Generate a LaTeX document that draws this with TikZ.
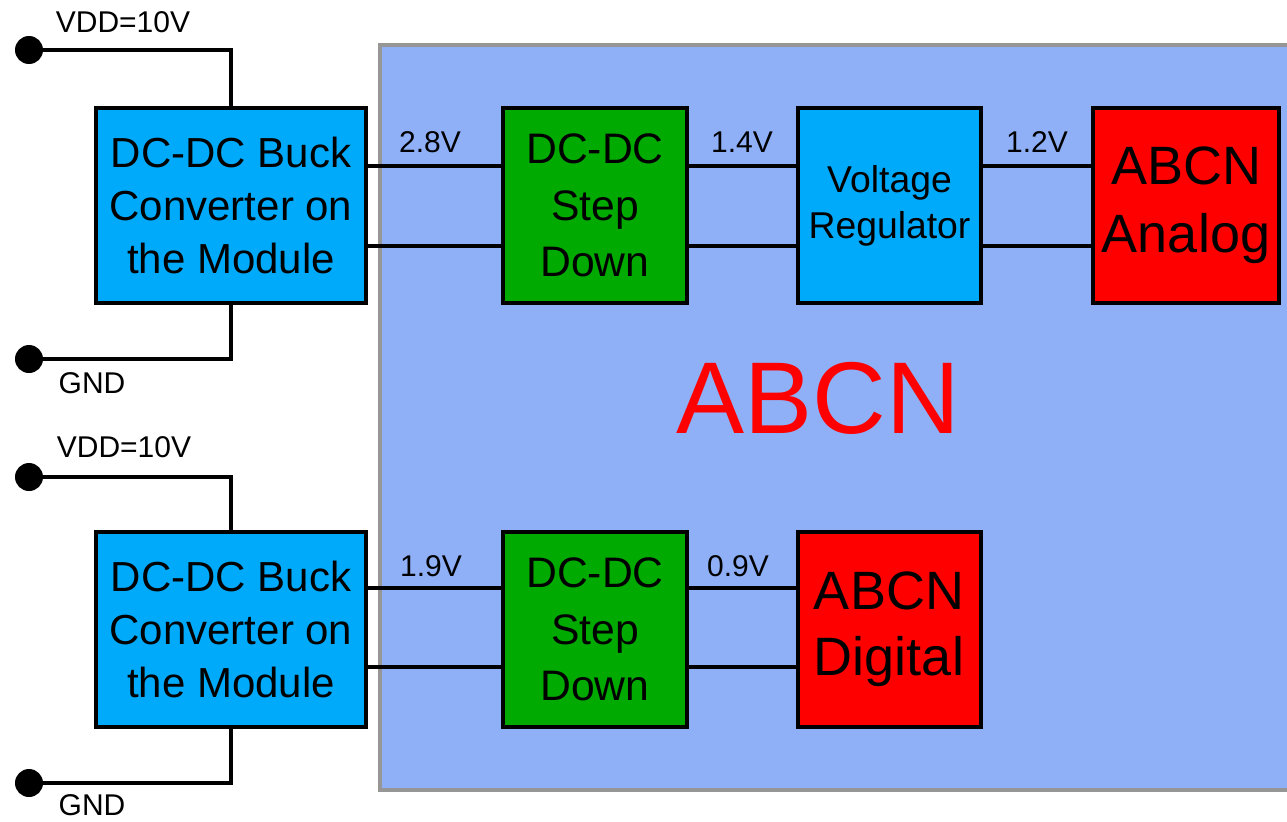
\documentclass[tikz,border=0pt]{standalone}
\usepackage{fontspec}
\setmainfont{Liberation Sans}
\definecolor{bigfill}{RGB}{143,176,247}
\definecolor{bigborder}{RGB}{150,150,150}
\definecolor{cyanbox}{RGB}{0,170,250}
\definecolor{greenbox}{RGB}{0,170,0}
\definecolor{redbox}{RGB}{255,0,0}
\tikzset{
  blk/.style={draw=black, line width=3pt, inner sep=0pt, outer sep=0pt, align=center,
              minimum height=146.25pt},
  buckbox/.style={blk, fill=cyanbox, minimum width=202.5pt,
                  font=\fontsize{31.5}{40}\selectfont},
  sdbox/.style={blk, fill=greenbox, minimum width=138pt,
                font=\fontsize{32}{42.4}\selectfont},
  vrbox/.style={blk, fill=cyanbox, minimum width=137.25pt,
                font=\fontsize{28}{34.5}\selectfont},
  anabox/.style={blk, fill=redbox, minimum width=139.5pt,
                 font=\fontsize{40.5}{51}\selectfont},
  digbox/.style={blk, fill=redbox, minimum width=137.25pt,
                 font=\fontsize{40.5}{49.5}\selectfont},
  dot/.style={circle, fill=black, inner sep=0pt, minimum size=21pt},
  lbl/.style={inner sep=0pt, font=\fontsize{22.5}{27}\selectfont},
  wire/.style={line width=3pt, black},
}
\begin{document}
\begin{tikzpicture}[x=0.75pt, y=-0.75pt]
\clip (0,0) rectangle (1287,821);
\fill[white] (0,0) rectangle (1287,821);
% big ABCN region
\draw[fill=bigfill, draw=bigborder, line width=3pt] (380,45) rectangle (1320,790);
\node[font=\fontsize{76.5}{90}\selectfont, text=redbox, inner sep=0pt] (abcn) at (818,398) {ABCN};

% top chain
\node[buckbox] (b1) at (231,205.5) {DC-DC Buck\\Converter on\\the Module};
\node[sdbox] (s1) at (595,205.5) {DC-DC\\Step\\Down};
\node[vrbox] (vr) at (889.5,205.5) {Voltage\\Regulator};
\node[anabox] (an) at (1186,205.5) {ABCN\\Analog};

% bottom chain
\node[buckbox] (b2) at (231,629.5) {DC-DC Buck\\Converter on\\the Module};
\node[sdbox] (s2) at (595,629.5) {DC-DC\\Step\\Down};
\node[digbox] (dg) at (889,629.5) {ABCN\\Digital};

% terminals
\node[dot] (vdd1) at (29,50) {};
\node[dot] (gnd1) at (29,359) {};
\node[dot] (vdd2) at (29,477) {};
\node[dot] (gnd2) at (29,783) {};
\node[lbl] (lv1) at (123,22) {VDD=10V};
\node[lbl] (lg1) at (92,383) {GND};
\node[lbl] (lv2) at (124,447) {VDD=10V};
\node[lbl] (lg2) at (92,805) {GND};

% supply wires
\draw[wire] (vdd1.center) -| (b1.north);
\draw[wire] (gnd1.center) -| (b1.south);
\draw[wire] (vdd2.center) -| (b2.north);
\draw[wire] (gnd2.center) -| (b2.south);

% top connections
\draw[wire] ([yshift=30pt]b1.east) -- ([yshift=30pt]s1.west);
\draw[wire] ([yshift=-30pt]b1.east) -- ([yshift=-30pt]s1.west);
\draw[wire] ([yshift=30pt]s1.east) -- ([yshift=30pt]vr.west);
\draw[wire] ([yshift=-30pt]s1.east) -- ([yshift=-30pt]vr.west);
\draw[wire] ([yshift=30pt]vr.east) -- ([yshift=30pt]an.west);
\draw[wire] ([yshift=-30pt]vr.east) -- ([yshift=-30pt]an.west);

% bottom connections
\draw[wire] ([yshift=31pt]b2.east) -- ([yshift=31pt]s2.west);
\draw[wire] ([yshift=-28pt]b2.east) -- ([yshift=-28pt]s2.west);
\draw[wire] ([yshift=31pt]s2.east) -- ([yshift=31pt]dg.west);
\draw[wire] ([yshift=-28pt]s2.east) -- ([yshift=-28pt]dg.west);

% voltage labels
\node[lbl] (v28) at (430,142) {2.8V};
\node[lbl] (v14) at (742,142) {1.4V};
\node[lbl] (v12) at (1037,142) {1.2V};
\node[lbl] (v19) at (431,566) {1.9V};
\node[lbl] (v09) at (738,566) {0.9V};
\end{tikzpicture}
\end{document}
